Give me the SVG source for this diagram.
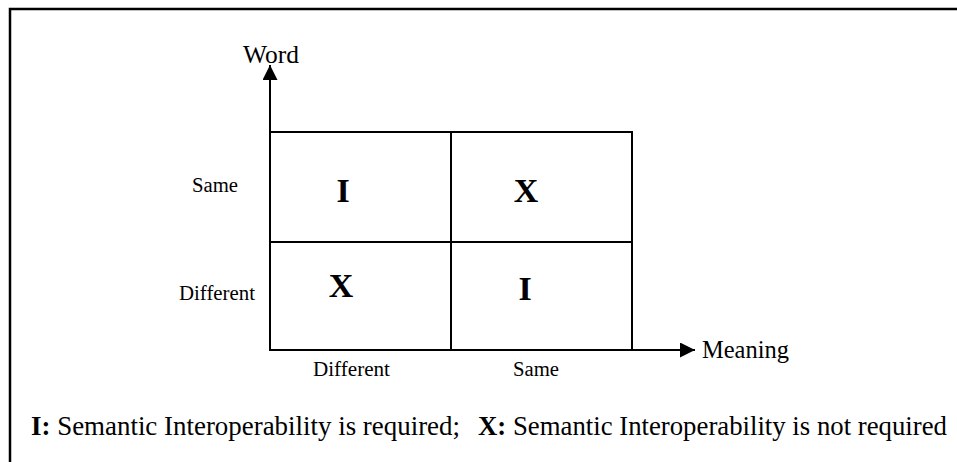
<svg xmlns="http://www.w3.org/2000/svg" width="957" height="462" viewBox="0 0 957 462">
<style>
.t{font-family:"Liberation Serif","Times New Roman",serif;fill:#000}
.b{font-weight:bold}
.ln{stroke:#000;stroke-width:2;fill:none}
</style>
<defs>
<marker id="ah" viewBox="0 0 10 10" refX="10" refY="5" markerWidth="18" markerHeight="15" markerUnits="userSpaceOnUse" orient="auto">
<path d="M0,0 L10,5 L0,10 Z" fill="#000"/>
</marker>
</defs>
<rect x="0" y="0" width="957" height="462" fill="#fff"/>
<rect x="10" y="9" width="980" height="480" fill="none" stroke="#000" stroke-width="2.5"/>
<g id="grid">
<rect class="ln" x="270" y="132" width="362" height="218"/>
<line class="ln" x1="451" y1="132" x2="451" y2="350"/>
<line class="ln" x1="270" y1="242" x2="632" y2="242"/>
</g>
<g id="connectors">
<line class="ln" x1="270" y1="350" x2="270" y2="65" marker-end="url(#ah)"/>
<line class="ln" x1="270" y1="350" x2="695" y2="350" marker-end="url(#ah)"/>
</g>
<g id="axis-word"><text class="t" x="243" y="63" font-size="24.5" textLength="56" lengthAdjust="spacingAndGlyphs">Word</text></g>
<g id="axis-meaning"><text class="t" x="702" y="358" font-size="24.5" textLength="87" lengthAdjust="spacingAndGlyphs">Meaning</text></g>
<g id="label-word-same"><text class="t" x="192" y="192" font-size="20.5" textLength="46" lengthAdjust="spacingAndGlyphs">Same</text></g>
<g id="label-word-different"><text class="t" x="179" y="300" font-size="20.5" textLength="76" lengthAdjust="spacingAndGlyphs">Different</text></g>
<g id="label-meaning-different"><text class="t" x="313" y="376" font-size="20.5" textLength="77" lengthAdjust="spacingAndGlyphs">Different</text></g>
<g id="label-meaning-same"><text class="t" x="513" y="376" font-size="20.5" textLength="46" lengthAdjust="spacingAndGlyphs">Same</text></g>
<g id="cell-tl"><text class="t b" x="343" y="202" font-size="34" text-anchor="middle">I</text></g>
<g id="cell-tr"><text class="t b" x="526" y="202" font-size="34" text-anchor="middle">X</text></g>
<g id="cell-bl"><text class="t b" x="341" y="297" font-size="34" text-anchor="middle">X</text></g>
<g id="cell-br"><text class="t b" x="525" y="300" font-size="34" text-anchor="middle">I</text></g>
<g id="legend">
<text class="t" x="31" y="435" font-size="26.5" textLength="429" lengthAdjust="spacingAndGlyphs"><tspan class="b">I:</tspan> Semantic Interoperability is required;</text>
<text class="t" x="478" y="435" font-size="26.5" textLength="469" lengthAdjust="spacingAndGlyphs"><tspan class="b">X:</tspan> Semantic Interoperability is not required</text>
</g>
</svg>
